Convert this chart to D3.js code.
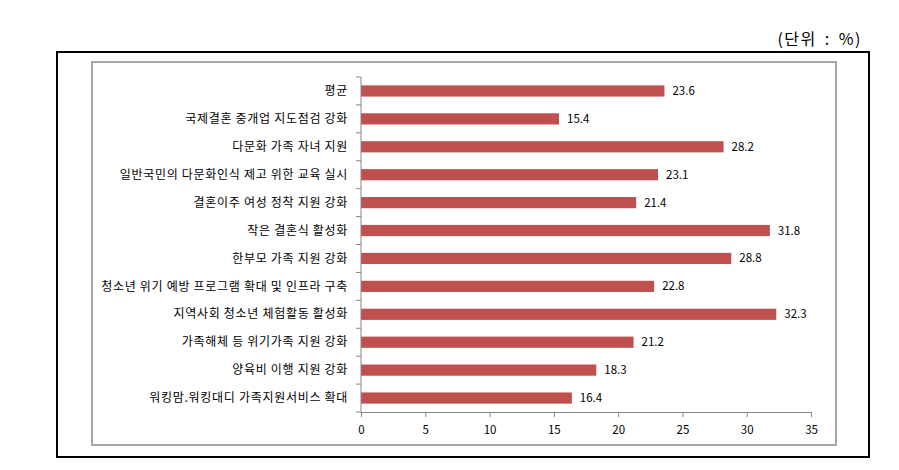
<!DOCTYPE html>
<html><head><meta charset="utf-8">
<script src="https://cdn.jsdelivr.net/npm/d3@7/dist/d3.min.js"></script>
<style>body{margin:0;background:#fff;} svg{display:block;}</style>
</head><body>
<svg id="c" width="899" height="470"></svg>
<script>
const categories = ["평균","국제결혼 중개업 지도점검 강화","다문화 가족 자녀 지원","일반국민의 다문화인식 제고 위한 교육 실시","결혼이주 여성 정착 지원 강화","작은 결혼식 활성화","한부모 가족 지원 강화","청소년 위기 예방 프로그램 확대 및 인프라 구축","지역사회 청소년 체험활동 활성화","가족해체 등 위기가족 지원 강화","양육비 이행 지원 강화","워킹맘.워킹대디 가족지원서비스 확대"];
const values = [23.6,15.4,28.2,23.1,21.4,31.8,28.8,22.8,32.3,21.2,18.3,16.4];
const xTicks = [0,5,10,15,20,25,30,35];
const unitLabel = "(단위 : %)";

const svg = d3.select("#c");
const font = "'Noto Sans CJK KR', 'Noto Sans', sans-serif";

svg.append("text").attr("x",862).attr("y",45).attr("text-anchor","end")
  .attr("font-family",font).attr("font-size",16).attr("letter-spacing","1.5px")
  .attr("word-spacing","3px").attr("fill","#000").text(unitLabel);

svg.append("rect").attr("x",57).attr("y",52).attr("width",812).attr("height",405)
  .attr("fill","none").attr("stroke","#000").attr("stroke-width",2);
svg.append("rect").attr("x",92).attr("y",62).attr("width",744).attr("height",383)
  .attr("fill","none").attr("stroke","#a6a6a6").attr("stroke-width",2);

const x = d3.scaleLinear().domain([0,35]).range([361,811]);
const y = d3.scaleBand().domain(categories).range([77,412]).paddingInner(0.6).paddingOuter(0.3);

const g = svg.append("g");
g.selectAll("rect.bar").data(values).join("rect").attr("class","bar")
  .attr("x",x(0)).attr("y",(d,i)=>y(categories[i]))
  .attr("width",d=>x(d)-x(0)).attr("height",y.bandwidth()).attr("fill","#C0504D");

g.selectAll("text.val").data(values).join("text").attr("class","val")
  .attr("x",d=>x(d)+8).attr("y",(d,i)=>y(categories[i])+y.bandwidth()/2)
  .attr("dy","0.35em").attr("font-family",font).attr("font-size",11.5).attr("fill","#000")
  .text(d=>d.toFixed(1));

// y axis
const yStart = 77, yEnd = 412;
g.append("line").attr("x1",361).attr("x2",361).attr("y1",yStart).attr("y2",yEnd).attr("stroke","#868686");
const yTickPos = d3.range(categories.length+1).map(i=>yStart + i*(yEnd-yStart)/categories.length);
g.selectAll("line.yt").data(yTickPos).join("line").attr("class","yt")
  .attr("x1",356).attr("x2",361).attr("y1",d=>d).attr("y2",d=>d).attr("stroke","#868686");
g.selectAll("text.cat").data(categories).join("text").attr("class","cat")
  .attr("x",348).attr("y",d=>y(d)+y.bandwidth()/2).attr("dy","0.35em")
  .attr("text-anchor","end").attr("font-family",font).attr("font-size",12)
  .attr("letter-spacing","0.7px").attr("fill","#000")
  .text(d=>d);

// x axis
const xa = svg.append("g").attr("transform","translate(0,412)")
  .call(d3.axisBottom(x).tickValues(xTicks).tickSize(5).tickSizeOuter(0));
xa.select(".domain").attr("stroke","#868686");
xa.selectAll(".tick line").attr("stroke","#868686");
xa.selectAll(".tick text").attr("font-family",font).attr("font-size",11.5).attr("fill","#000").attr("dy","1.2em");
</script>
</body></html>
